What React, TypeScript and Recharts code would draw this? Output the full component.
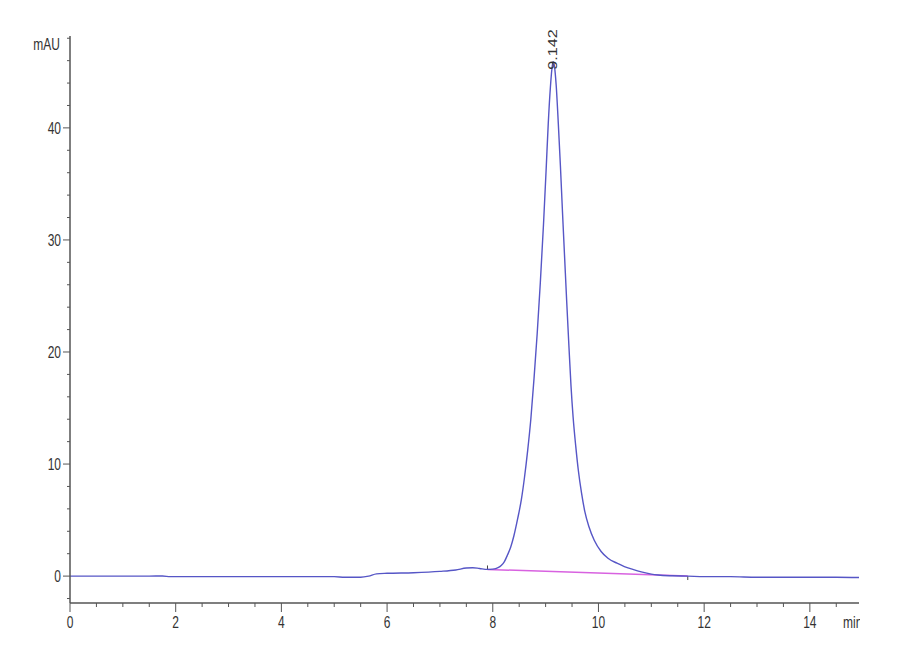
import {
  ComposedChart,
  Line,
  XAxis,
  YAxis,
  ReferenceDot,
  ReferenceLine,
} from "recharts";

// retention time (min) and detector signal (mAU)
const retentionTimes = [
  0, 0.5, 1.0, 1.5, 1.75, 1.9, 2.1, 2.5, 3.0, 3.5, 4.0, 4.5, 5.0, 5.2, 5.5,
  5.65, 5.8, 6.0, 6.5, 7.0, 7.3, 7.5, 7.62, 7.75, 7.9, 8.0, 8.1, 8.16, 8.22,
  8.28, 8.34, 8.4, 8.47, 8.54, 8.6, 8.66, 8.72, 8.78, 8.84, 8.9, 8.96, 9.01,
  9.05, 9.09, 9.12, 9.142, 9.17, 9.2, 9.24, 9.28, 9.32, 9.36, 9.4, 9.44, 9.48,
  9.52, 9.57, 9.62, 9.68, 9.74, 9.82, 9.92, 10.05, 10.18, 10.35, 10.49, 10.65,
  10.81, 11.0, 11.13, 11.4, 11.69, 12.0, 12.5, 13.0, 13.5, 14.0, 14.5, 14.93,
];
const signal = [
  0, 0, 0, 0, 0.01, -0.05, -0.05, -0.05, -0.05, -0.05, -0.05, -0.05, -0.05,
  -0.1, -0.1, 0.0, 0.2, 0.25, 0.3, 0.42, 0.55, 0.72, 0.75, 0.68, 0.6, 0.62,
  0.75, 0.95, 1.3, 1.9, 2.6, 3.6, 5.1, 6.8, 8.8, 11.2, 14.0, 17.6, 21.6, 26.2,
  31.4, 36.3, 40.4, 43.6, 45.3, 45.9, 45.4, 43.8, 40.4, 36.6, 32.4, 28.4,
  24.4, 20.6, 17.0, 14.2, 11.6, 9.4, 7.4, 5.8, 4.4, 3.2, 2.2, 1.6, 1.15, 0.85,
  0.6, 0.38, 0.18, 0.1, 0.03, 0, -0.05, -0.05, -0.1, -0.1, -0.1, -0.1, -0.12,
];

// integration baseline under the main peak
const baselineTimes = [7.9, 11.69];
const baselineValues = [0.6, 0.0];

const peakTime = 9.142;
const peakHeight = 45.9;
const peakLabel = "9.142";

const xTicks = Array.from({ length: 30 }, (_, i) => i * 0.5);
const yTicks = Array.from({ length: 26 }, (_, i) => -2 + i * 2);
const xLabelTicks = [0, 2, 4, 6, 8, 10, 12, 14];
const yLabelTicks = [0, 10, 20, 30, 40];

const TRACE_COLOR = "#5656c6";
const BASELINE_COLOR = "#d862e0";
const AXIS_COLOR = "#555";
const FONT = "'Liberation Sans', Arial, sans-serif";

const traceData = retentionTimes.map((t, i) => ({ t, mau: signal[i] }));
const baselineData = baselineTimes.map((t, i) => ({ t, base: baselineValues[i] }));

function StretchText({ x, y, anchor, children }: any) {
  return (
    <text
      transform={`translate(${x},${y}) scale(1,1.35)`}
      textAnchor={anchor}
      fontFamily={FONT}
      fontSize={12}
      fill="#333"
    >
      {children}
    </text>
  );
}

function XTick({ x, y, payload }: any) {
  const major = xLabelTicks.includes(payload.value);
  return (
    <g>
      <line x1={x} y1={y} x2={x} y2={y + (major ? 9 : 4)} stroke={AXIS_COLOR} />
      {major && (
        <StretchText x={x} y={y + 25} anchor="middle">
          {payload.value}
        </StretchText>
      )}
    </g>
  );
}

function YTick({ x, y, payload }: any) {
  const major = yLabelTicks.includes(payload.value);
  const top = payload.value === 48;
  return (
    <g>
      <line x1={x - (major ? 7 : 3)} y1={y} x2={x} y2={y} stroke={AXIS_COLOR} />
      {major && (
        <StretchText x={x - 9} y={y + 6} anchor="end">
          {payload.value}
        </StretchText>
      )}
      {top && (
        <StretchText x={x - 10} y={y + 12} anchor="end">
          mAU
        </StretchText>
      )}
    </g>
  );
}

function PeakLabel({ cx, cy }: any) {
  return (
    <text
      transform={`translate(${cx},${cy + 8}) scale(1,1.35) rotate(-90)`}
      dy="0.36em"
      fontFamily={FONT}
      fontSize={12}
      fill="#333"
    >
      {peakLabel}
    </text>
  );
}

export default function App() {
  return (
    <div style={{ position: "absolute", left: 0, top: 0, width: 900, height: 660, background: "#fff" }}>
      <ComposedChart
        width={900}
        height={660}
        margin={{ top: 36, right: 41, bottom: 27, left: 20 }}
      >
        <XAxis
          type="number"
          dataKey="t"
          domain={[0, 14.93]}
          ticks={xTicks}
          interval={0}
          allowDataOverflow
          tickSize={0}
          tickMargin={0}
          tickLine={false}
          tick={<XTick />}
          height={30}
          stroke={AXIS_COLOR}
          strokeWidth={1.5}
        />
        <YAxis
          type="number"
          domain={[-2.4, 48.2]}
          ticks={yTicks}
          interval={0}
          allowDataOverflow
          tickSize={0}
          tickMargin={0}
          tickLine={false}
          tick={<YTick />}
          width={50}
          stroke={AXIS_COLOR}
          strokeWidth={1.5}
        />
        <Line
          data={baselineData}
          dataKey="base"
          type="linear"
          stroke={BASELINE_COLOR}
          strokeWidth={1.5}
          dot={false}
          isAnimationActive={false}
        />
        <ReferenceLine
          segment={[
            { x: baselineTimes[0], y: baselineValues[0] },
            { x: baselineTimes[0], y: baselineValues[0] + 0.35 },
          ]}
          stroke="#444"
        />
        <ReferenceLine
          segment={[
            { x: baselineTimes[1], y: baselineValues[1] },
            { x: baselineTimes[1], y: baselineValues[1] - 0.35 },
          ]}
          stroke="#444"
        />
        <Line
          data={traceData}
          dataKey="mau"
          type="monotone"
          stroke={TRACE_COLOR}
          strokeWidth={1.4}
          dot={false}
          isAnimationActive={false}
        />
        <ReferenceDot
          x={peakTime}
          y={peakHeight}
          r={0}
          shape={<PeakLabel />}
        />
      </ComposedChart>
      <svg
        width={900}
        height={660}
        style={{ position: "absolute", left: 0, top: 0, pointerEvents: "none" }}
      >
        <defs>
          <clipPath id="unitClip">
            <rect x={0} y={0} width={860} height={660} />
          </clipPath>
        </defs>
        <g clipPath="url(#unitClip)">
          <StretchText x={843} y={628} anchor="start">
            min
          </StretchText>
        </g>
      </svg>
    </div>
  );
}
